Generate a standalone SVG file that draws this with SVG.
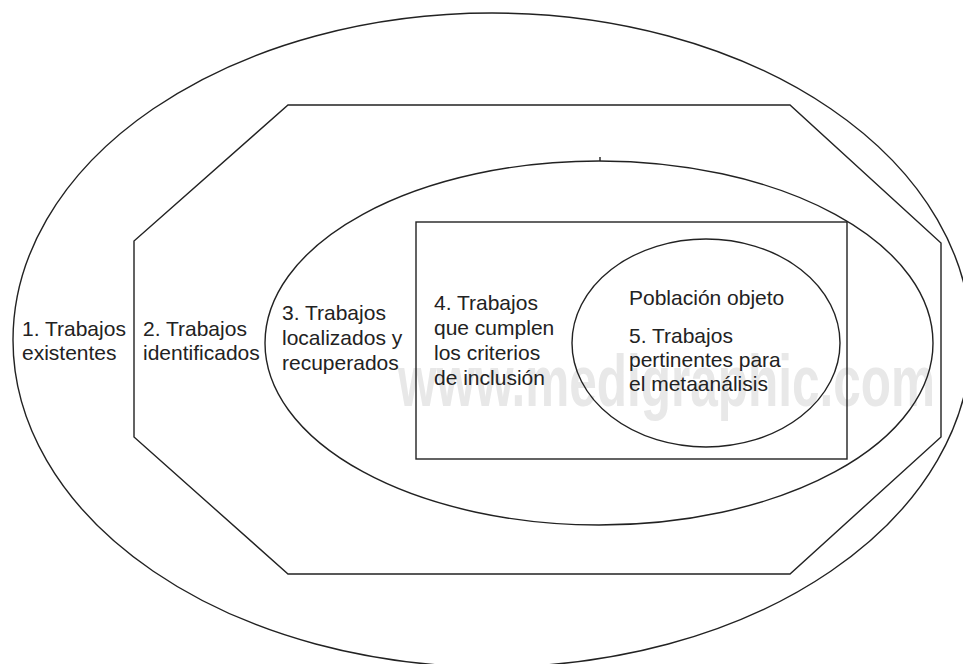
<svg xmlns="http://www.w3.org/2000/svg" width="963" height="664" viewBox="0 0 963 664">
<style>
.ln{fill:none;stroke:#222;stroke-width:1.4}
.t{font-family:"Liberation Sans",Arial,sans-serif;font-size:21px;fill:#222}
.wm{font-family:"Liberation Sans",Arial,sans-serif;font-size:72px;font-weight:bold;fill:#e8e8e8}
</style>
<rect width="963" height="664" fill="#fff"/>
<text class="wm" x="398" y="406" textLength="537" lengthAdjust="spacingAndGlyphs">www.medigraphic.com</text>
<g id="n1">
<ellipse class="ln" cx="492" cy="340" rx="479" ry="327"/>
<text class="t" x="22" y="336">1. Trabajos</text>
<text class="t" x="22" y="360">existentes</text>
</g>
<g id="n2">
<polygon class="ln" points="288,105 790,105 941,243 941,437 790,574 288,574 134,437 134,241"/>
<text class="t" x="143" y="336">2. Trabajos</text>
<text class="t" x="143" y="360">identificados</text>
</g>
<g id="n3">
<ellipse class="ln" cx="599" cy="343" rx="334" ry="182"/>
<path class="ln" d="M600,157V161"/>
<text class="t" x="282" y="320">3. Trabajos</text>
<text class="t" x="282" y="345">localizados y</text>
<text class="t" x="282" y="370">recuperados</text>
</g>
<g id="n4">
<rect class="ln" x="416" y="222" width="431" height="237"/>
<text class="t" x="434" y="310">4. Trabajos</text>
<text class="t" x="434" y="335">que cumplen</text>
<text class="t" x="434" y="360">los criterios</text>
<text class="t" x="434" y="385">de inclusión</text>
</g>
<g id="n5">
<ellipse class="ln" cx="706" cy="343" rx="134" ry="104"/>
<text class="t" x="629" y="305">Población objeto</text>
<text class="t" x="629" y="343">5. Trabajos</text>
<text class="t" x="629" y="367">pertinentes para</text>
<text class="t" x="629" y="391">el metaanálisis</text>
</g>
<g id="connectors"></g>
</svg>
